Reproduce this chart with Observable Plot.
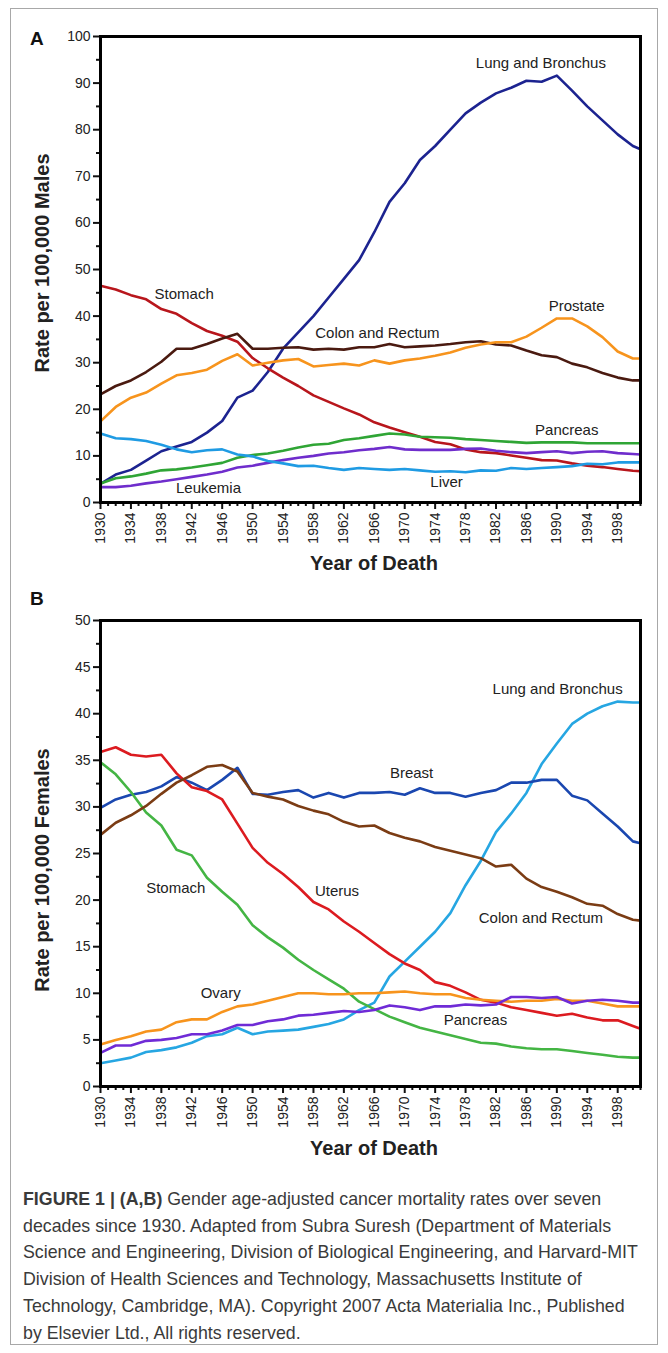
<!DOCTYPE html>
<html><head><meta charset="utf-8">
<script src="https://cdn.jsdelivr.net/npm/d3@7"></script>
<script src="https://cdn.jsdelivr.net/npm/@observablehq/plot@0.6"></script>
<style>
body{margin:0;background:#fff;width:668px;height:1353px;position:relative;font-family:"Liberation Sans",Arial,sans-serif;overflow:hidden}
.border{position:absolute;left:10px;top:8px;width:648px;height:1337px;border:1px solid #a8a8a8;box-sizing:border-box}
.panel{position:absolute;left:0}
.letter{position:absolute;font-weight:bold;font-size:19px;color:#111;line-height:1}
.ytitle{position:absolute;font-weight:bold;font-size:20px;white-space:nowrap;transform:translate(-50%,-50%) rotate(-90deg);color:#222;line-height:1}
.xtitle{position:absolute;font-weight:bold;font-size:20px;white-space:nowrap;transform:translate(-50%,-50%);color:#222;line-height:1}
.caption{position:absolute;left:23px;top:1186px;font-size:17.8px;line-height:26.7px;color:#3a3a3a;white-space:nowrap}
</style></head><body>
<div class="border"></div>
<div class="letter" style="left:30px;top:29px">A</div>
<div class="letter" style="left:30px;top:589px">B</div>
<div id="pa" class="panel" style="top:0"></div>
<div id="pb" class="panel" style="top:584px"></div>
<div class="ytitle" style="left:42px;top:263px">Rate per 100,000 Males</div>
<div class="ytitle" style="left:42px;top:870px">Rate per 100,000 Females</div>
<div class="xtitle" style="left:374px;top:563px">Year of Death</div>
<div class="xtitle" style="left:374px;top:1148px">Year of Death</div>
<div class="caption"><b>FIGURE 1 | (A,B)</b> Gender age-adjusted cancer mortality rates over seven<br>decades since 1930. Adapted from Subra Suresh (Department of Materials<br>Science and Engineering, Division of Biological Engineering, and Harvard-MIT<br>Division of Health Sciences and Technology, Massachusetts Institute of<br>Technology, Cambridge, MA). Copyright 2007 Acta Materialia Inc., Published<br>by Elsevier Ltd., All rights reserved.</div>
<script>
// ---- years of the readings ----
const years = [1930,1932,1934,1936,1938,1940,1942,1944,1946,1948,1950,1952,1954,1956,1958,1960,1962,1964,1966,1968,1970,1972,1974,1976,1978,1980,1982,1984,1986,1988,1990,1992,1994,1996,1998,2000,2001];

// ---- Panel A: males ----
const maleSeries = ["Lung and Bronchus","Stomach","Colon and Rectum","Prostate","Pancreas","Leukemia","Liver"];
const maleLung     = [4,6,7,9,11,12,13,15,17.5,22.5,24,28,33,36.5,40,44,48,52,58,64.5,68.5,73.5,76.5,80,83.5,85.8,87.8,89,90.5,90.3,91.6,88.4,85,82,79,76.5,75.8];
const maleStomach  = [46.5,45.7,44.5,43.6,41.5,40.5,38.5,36.8,35.8,34.5,31,28.8,26.8,25,23,21.6,20.2,18.9,17.2,16.1,15.1,14.1,13,12.5,11.4,10.8,10.6,10.1,9.6,9.1,9.0,8.4,7.9,7.6,7.2,6.8,6.7];
const maleColon    = [23.2,25,26.2,28,30.2,33,33,34,35.2,36.2,33,33,33.2,33.3,32.8,33,32.8,33.3,33.3,34,33.3,33.5,33.7,34,34.4,34.6,33.9,33.7,32.6,31.6,31.2,29.8,29,27.8,26.8,26.2,26.2];
const maleProstate = [17.4,20.5,22.5,23.6,25.5,27.3,27.8,28.5,30.4,31.8,29.4,30,30.5,30.8,29.2,29.5,29.8,29.4,30.5,29.8,30.5,30.9,31.5,32.2,33.2,33.9,34.4,34.4,35.6,37.5,39.5,39.5,37.8,35.5,32.4,30.9,30.9];
const malePancreas = [4.1,5.2,5.6,6.2,6.9,7.1,7.5,8.0,8.5,9.6,10.2,10.5,11.1,11.8,12.4,12.6,13.4,13.8,14.3,14.8,14.6,14.1,14,13.9,13.6,13.4,13.2,13,12.8,12.9,12.9,12.9,12.7,12.7,12.7,12.7,12.7];
const maleLeukemia = [3.3,3.3,3.6,4.1,4.5,5.0,5.5,6.0,6.6,7.5,7.9,8.5,9.1,9.6,10.0,10.5,10.8,11.2,11.5,11.9,11.4,11.3,11.3,11.3,11.5,11.6,11.1,10.8,10.6,10.8,11.0,10.6,10.9,11.0,10.6,10.4,10.3];
const maleLiver    = [14.8,13.8,13.6,13.2,12.4,11.4,10.8,11.2,11.4,10.3,9.9,8.9,8.4,7.8,7.9,7.4,7.0,7.4,7.2,7.0,7.2,6.9,6.6,6.7,6.5,6.9,6.8,7.4,7.2,7.4,7.6,7.8,8.3,8.2,8.6,8.6,8.6];
const maleColors = ["#1c2390","#b8161c","#4a1a10","#f7941d","#2fa535","#6f2dcc","#1f9be3"];
const maleLabels = [
  {text:"Lung and Bronchus", year:1987.9, value:94.2},
  {text:"Stomach", year:1941.0, value:44.8},
  {text:"Colon and Rectum", year:1966.4, value:36.3},
  {text:"Prostate", year:1992.6, value:42.1},
  {text:"Pancreas", year:1991.3, value:15.5},
  {text:"Leukemia", year:1944.2, value:3.0},
  {text:"Liver", year:1975.5, value:4.3}
];

// ---- Panel B: females ----
const femaleSeries = ["Lung and Bronchus","Breast","Uterus","Stomach","Colon and Rectum","Ovary","Pancreas"];
const femaleLung     = [2.5,2.8,3.1,3.7,3.9,4.2,4.7,5.4,5.6,6.3,5.6,5.9,6.0,6.1,6.4,6.7,7.2,8.2,9.0,11.8,13.4,15.0,16.6,18.6,21.6,24.2,27.3,29.3,31.5,34.6,36.8,38.9,40.0,40.8,41.3,41.2,41.2];
const femaleBreast   = [29.9,30.8,31.3,31.6,32.2,33.2,32.6,31.8,32.9,34.2,31.4,31.3,31.6,31.8,31.0,31.5,31.0,31.5,31.5,31.6,31.3,32.0,31.5,31.5,31.1,31.5,31.8,32.6,32.6,32.9,32.9,31.2,30.7,29.3,27.9,26.3,26.1];
const femaleUterus   = [35.9,36.4,35.6,35.4,35.6,33.6,32.1,31.7,30.8,28.2,25.6,24,22.8,21.4,19.8,19,17.7,16.6,15.4,14.2,13.2,12.5,11.2,10.8,10.1,9.3,9.0,8.5,8.2,7.9,7.6,7.8,7.4,7.1,7.1,6.5,6.2];
const femaleStomach  = [34.8,33.5,31.6,29.4,28,25.4,24.8,22.4,20.9,19.5,17.3,16,14.9,13.6,12.5,11.5,10.5,9.1,8.3,7.5,6.9,6.3,5.9,5.5,5.1,4.7,4.6,4.3,4.1,4.0,4.0,3.8,3.6,3.4,3.2,3.1,3.1];
const femaleColon    = [27,28.3,29.1,30.1,31.4,32.6,33.4,34.3,34.5,33.8,31.5,31.1,30.8,30.1,29.6,29.2,28.4,27.9,28.0,27.2,26.7,26.3,25.7,25.3,24.9,24.5,23.6,23.8,22.3,21.4,20.9,20.3,19.6,19.4,18.5,17.9,17.8];
const femaleOvary    = [4.5,5.0,5.4,5.9,6.1,6.9,7.2,7.2,8.0,8.6,8.8,9.2,9.6,10.0,10.0,9.9,9.9,10.0,10.0,10.1,10.2,10.0,9.9,9.9,9.5,9.3,9.2,9.1,9.2,9.2,9.4,9.2,9.2,8.9,8.6,8.6,8.6];
const femalePancreas = [3.6,4.4,4.4,4.9,5.0,5.2,5.6,5.6,6.0,6.6,6.6,7.0,7.2,7.6,7.7,7.9,8.1,8.0,8.2,8.7,8.5,8.2,8.6,8.6,8.8,8.7,8.8,9.6,9.6,9.5,9.6,8.9,9.2,9.3,9.2,9.0,9.0];
const femaleColors = ["#26a6e2","#1a47b0","#dc1b20","#44b544","#7b3c14","#f7941d","#6f2bd6"];
const femaleLabels = [
  {text:"Lung and Bronchus", year:1990.1, value:42.6},
  {text:"Breast", year:1970.9, value:33.6},
  {text:"Stomach", year:1939.9, value:21.3},
  {text:"Uterus", year:1961.1, value:21.0},
  {text:"Colon and Rectum", year:1987.9, value:18.1},
  {text:"Ovary", year:1945.8, value:10.0},
  {text:"Pancreas", year:1979.3, value:7.1}
];

// ---- axis ticks ----
const majorYears = d3.range(1930, 2001, 4);
const minorYears = d3.range(1930, 2002, 1).filter(y => (y - 1930) % 4 !== 0);
const ticksA = d3.range(0, 101, 10), minorA = d3.range(5, 100, 10);
const ticksB = d3.range(0, 51, 5), minorB = d3.range(2.5, 50, 5);

function rows(names, arrays) {
  return names.flatMap((n, i) => years.map((y, j) => ({year: y, value: arrays[i][j], series: n})));
}

function panel(names, arrays, colors, labels, yMax, yMajor, yMinor) {
  return Plot.plot({
    width: 668, height: 590,
    marginLeft: 100, marginRight: 28, marginTop: 36, marginBottom: 88,
    x: {domain: [1930, 2001]},
    y: {domain: [0, yMax]},
    color: {domain: names, range: colors},
    style: {fontFamily: '"Liberation Sans", Arial, sans-serif', fontSize: "14px", color: "#222", background: "transparent", overflow: "visible"},
    marks: [
      Plot.axisY({ticks: yMajor, tickSize: 7, tickPadding: 3, fontSize: 14, label: null, strokeWidth: 2, stroke: "#111"}),
      Plot.axisY({ticks: yMinor, tickSize: 4, tickFormat: () => "", label: null, strokeWidth: 2, stroke: "#111"}),
      Plot.axisX({ticks: majorYears, tickSize: 7, tickPadding: 3, tickRotate: -90, tickFormat: d => String(d), fontSize: 14, label: null, strokeWidth: 2, stroke: "#111"}),
      Plot.axisX({ticks: minorYears, tickSize: 4, tickFormat: () => "", label: null, strokeWidth: 2, stroke: "#111"}),
      Plot.line(rows(names, arrays), {x: "year", y: "value", z: "series", stroke: "series", strokeWidth: 2.6, strokeLinejoin: "round"}),
      Plot.text(labels, {x: "year", y: "value", text: "text", fontSize: 15, fill: "#222"}),
      Plot.frame({stroke: "#000", strokeWidth: 3})
    ]
  });
}

document.getElementById("pa").append(panel(maleSeries,
  [maleLung, maleStomach, maleColon, maleProstate, malePancreas, maleLeukemia, maleLiver],
  maleColors, maleLabels, 100, ticksA, minorA));
document.getElementById("pb").append(panel(femaleSeries,
  [femaleLung, femaleBreast, femaleUterus, femaleStomach, femaleColon, femaleOvary, femalePancreas],
  femaleColors, femaleLabels, 50, ticksB, minorB));
</script>
</body></html>
